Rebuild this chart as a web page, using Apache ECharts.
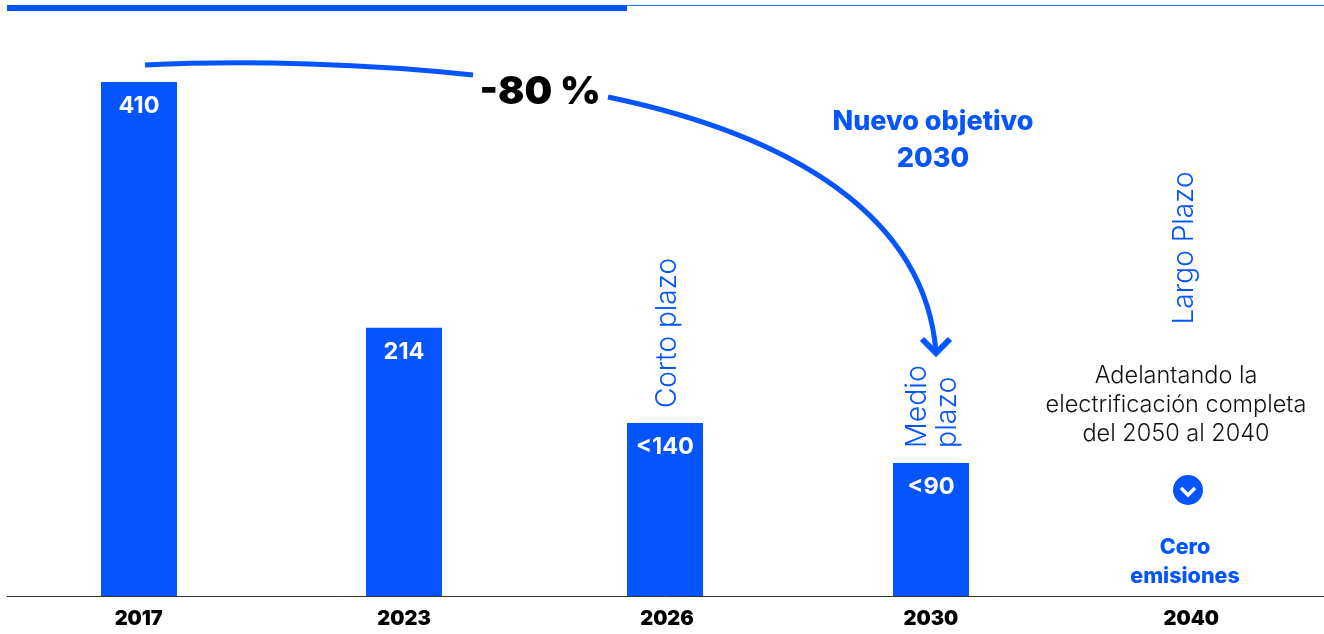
<!DOCTYPE html>
<html>
<head>
<meta charset="utf-8">
<title>Emisiones</title>
<script src="https://cdn.jsdelivr.net/npm/echarts@6/dist/echarts.min.js"></script>
<style>
    html, body { margin: 0; padding: 0; background: #fff; }
    #chart { width: 1324px; height: 634px; }
</style>
</head>
<body>
<div id="chart"></div>
<script>
var years = ['2017', '2023', '2026', '2030', '2040'];
var emissions = [410, 214, 138, 106, null];
var barLabels = ['410', '214', '<140', '<90', ''];

var blue = '#0555ff';
var fontName = 'Inter, sans-serif';

// the columns of the original are not evenly spaced, small px shift per column
var columnShift = [0, 2, -1, 2, -1];

var chart = echarts.init(document.getElementById('chart'));

// Free text around the bars
var textItem = function (text, x, y, size, weight, color, rotation, lineHeight, align) {
    return {
        type: 'text',
        x: x,
        y: y,
        rotation: rotation || 0,
        style: {
            text: text,
            fill: color,
            fontFamily: fontName,
            fontSize: size,
            fontWeight: weight,
            lineHeight: lineHeight,
            align: align || 'center',
            verticalAlign: 'middle'
        }
    };
};

var strokeItem = function (shapeType, shape, width) {
    return {
        type: shapeType,
        shape: shape,
        style: { stroke: blue, lineWidth: width, fill: null }
    };
};

var renderBar = function (params, api) {
    var index = api.value(0);
    var top = api.coord([index, api.value(1)]);
    var bottom = api.coord([index, 0]);
    var center = Math.round(top[0] + columnShift[index]);
    return {
        type: 'group',
        children: [{
            type: 'rect',
            shape: { x: center - 38, y: top[1], width: 76, height: bottom[1] - top[1] },
            style: { fill: blue }
        }, {
            type: 'text',
            x: center,
            y: top[1] + 24,
            style: {
                text: barLabels[index],
                fill: '#fff',
                fontFamily: fontName,
                fontSize: 23.5,
                fontWeight: 700,
                align: 'center',
                verticalAlign: 'middle'
            }
        }]
    };
};

var yearStyle = function (padding) {
    return { color: '#000', fontFamily: fontName, fontSize: 20, fontWeight: 900, padding: padding };
};

var vertical = Math.PI / 2;

chart.setOption({
    animation: false,
    grid: { left: 7, top: 82, width: 1317, height: 514 },
    xAxis: {
        type: 'category',
        data: years,
        axisLine: { lineStyle: { color: '#333', width: 1 } },
        axisTick: { show: false },
        axisLabel: {
            margin: 13,
            formatter: function (value, index) {
                return '{s' + index + '|' + value + '}';
            },
            rich: {
                s0: yearStyle([0, 0, 0, 0]),
                s1: yearStyle([0, 0, 0, 4]),
                s2: yearStyle([0, 0, 0, 3]),
                s3: yearStyle([0, 0, 0, 4]),
                s4: yearStyle([0, 2, 0, 0])
            }
        }
    },
    yAxis: {
        type: 'value',
        min: 0,
        max: 410,
        show: false
    },
    series: [{
        type: 'custom',
        renderItem: renderBar,
        encode: { x: 0, y: 1 },
        data: emissions.map(function (value, i) { return [i, value]; }).filter(function (d) { return d[1] !== null; })
    }],
    graphic: [
        // Top band
        { type: 'rect', shape: { x: 7, y: 5, width: 620, height: 6 }, style: { fill: blue } },
        { type: 'rect', shape: { x: 627, y: 5, width: 697, height: 1 }, style: { fill: '#2b6fff' } },

        // -80 % arrow
        strokeItem('bezierCurve', { x1: 145, y1: 65, cpx1: 250, cpy1: 60, cpx2: 370, cpy2: 64, x2: 473, y2: 75 }, 5),
        strokeItem('bezierCurve', { x1: 608, y1: 97, cpx1: 790, cpy1: 135, cpx2: 925, cpy2: 215, x2: 936, y2: 352 }, 5),
        strokeItem('polyline', { points: [[922, 339], [936, 353], [950, 339]] }, 6),
        textItem('-80 %', 540, 92, 39, 900, '#000'),

        textItem('Nuevo objetivo\n2030', 933, 140, 27, 800, blue, 0, 37),
        textItem('Corto plazo', 668, 333, 28, 300, blue, vertical),
        textItem('Medio\nplazo', 932, 448, 28.5, 300, blue, vertical, 30, 'left'),
        textItem('Largo Plazo', 1185, 248, 28, 300, blue, vertical),
        textItem('Adelantando la\nelectrificación completa\ndel 2050 al 2040', 1176, 405, 23.5, 300, '#111', 0, 29),

        // Down icon
        { type: 'circle', shape: { cx: 1188, cy: 490, r: 15 }, style: { fill: blue } },
        {
            type: 'polyline',
            shape: { points: [[1181, 488], [1188, 495], [1195, 488]] },
            style: { stroke: '#fff', lineWidth: 3.5, fill: null }
        },
        textItem('Cero\nemisiones', 1185, 562, 21.5, 800, blue, 0, 29)
    ]
});
</script>
</body>
</html>
